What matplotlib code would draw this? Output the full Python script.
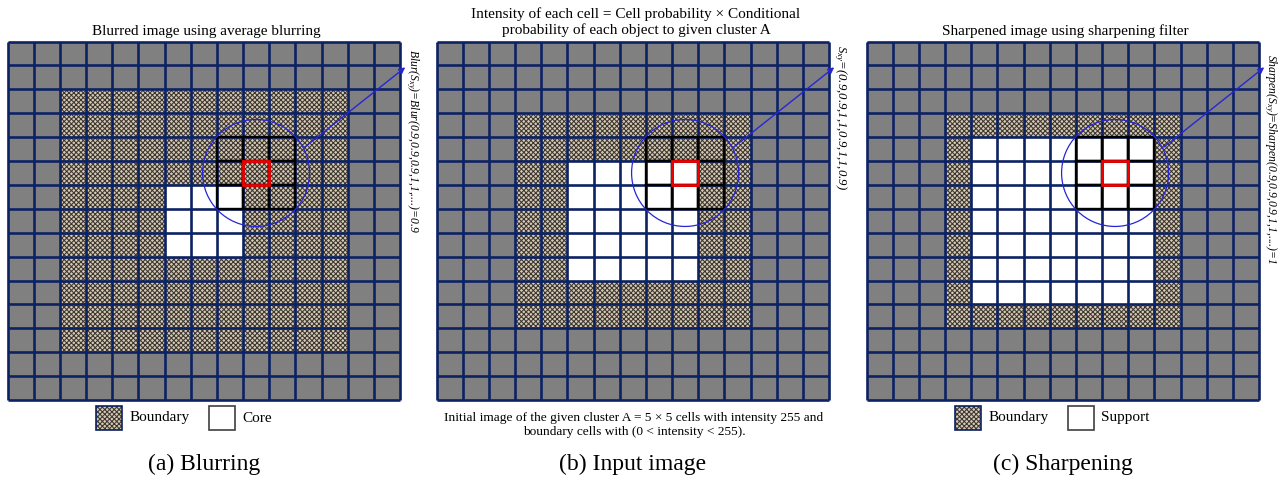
import matplotlib
matplotlib.use("Agg")
import matplotlib.pyplot as plt
from matplotlib.patches import Rectangle, Ellipse
import numpy as np

plt.rcParams['font.family'] = ['Liberation Serif', 'DejaVu Serif']
plt.rcParams['hatch.linewidth'] = 0.75
plt.rcParams['mathtext.fontset'] = 'custom'
plt.rcParams['mathtext.rm'] = 'Liberation Serif'
plt.rcParams['mathtext.it'] = 'Liberation Serif:italic'

# ---------------- data ----------------
n_rows = 15
n_cols = 15
panel_titles = ["Blurred image using average blurring",
                "Intensity of each cell = Cell probability \u00d7 Conditional\nprobability of each object to given cluster A",
                "Sharpened image using sharpening filter"]
panel_labels = ["(a) Blurring", "(b) Input image", "(c) Sharpening"]
# (row_start, row_end, col_start, col_end) inclusive
boundary_regions = [(2, 12, 2, 12), (3, 11, 3, 11), (3, 11, 3, 11)]
core_regions = [(6, 8, 6, 8), (5, 9, 5, 9), (4, 10, 4, 10)]
focus_cell = (5, 9)  # (row, col)
side_texts = [r"Blur(S$_{xy}$)=Blur(0.9,0.9,0.9,1,1,....)=0.9",
              r"S$_{xy}$=(0.9,0.9,1,1,0.9,1,1,0.9)",
              r"Sharpen(S$_{xy}$)=Sharpen(0.9,0.9,0.9,1,1,....)=1"]
legend_labels = [("Boundary", "Core"), None, ("Boundary", "Support")]
caption_b = "Initial image of the given cluster A = 5 \u00d7 5 cells with intensity 255 and\nboundary cells with (0 < intensity < 255)."

# ---------------- styles ----------------
W, H = 1281, 480
NAVY = '#0c2262'
GRAY = '#808080'
HATCH_FACE = '#d8c9b2'
HATCH_COL = '#3a3632'
BLUE = '#2626d6'
HATCH = 'xxxxxxx'

fig = plt.figure(figsize=(W / 100, H / 100), dpi=100)
fig.patch.set_facecolor('white')


def fx(x):
    return x / W


def fy(y):
    return 1 - y / H


grid_left = [7.5, 436.5, 866.5]
grid_w = 392.5
grid_top = 41.5
grid_bottom = 400.0
side_text_pos = [(412, 49), (840, 45), (1270, 54)]
side_text_size = [8.4, 9.2, 8.4]
legend_x = [96, None, 955]


def build_matrix(b, c):
    m = np.zeros((n_rows, n_cols), dtype=int)
    m[b[0]:b[1] + 1, b[2]:b[3] + 1] = 1
    m[c[0]:c[1] + 1, c[2]:c[3] + 1] = 2
    return m


for p in range(3):
    ax = fig.add_axes([fx(grid_left[p]), fy(grid_bottom), fx(grid_w),
                       (grid_bottom - grid_top) / H])
    ax.set_xlim(0, n_cols)
    ax.set_ylim(n_rows, 0)
    ax.axis('off')
    m = build_matrix(boundary_regions[p], core_regions[p])
    for r in range(n_rows):
        for c in range(n_cols):
            t = m[r, c]
            if t == 0:
                ax.add_patch(Rectangle((c, r), 1, 1, facecolor=GRAY, edgecolor='none', lw=0))
            elif t == 1:
                ax.add_patch(Rectangle((c, r), 1, 1, facecolor=HATCH_FACE, edgecolor=HATCH_COL,
                                       hatch=HATCH, lw=0))
            else:
                ax.add_patch(Rectangle((c, r), 1, 1, facecolor='white', edgecolor='none', lw=0))
    ax.vlines(np.arange(n_cols + 1), 0, n_rows, colors=NAVY, lw=1.9, clip_on=False)
    ax.hlines(np.arange(n_rows + 1), 0, n_cols, colors=NAVY, lw=1.9, clip_on=False)
    fr, fc = focus_cell
    for dr in (-1, 0, 1):
        for dc in (-1, 0, 1):
            ax.add_patch(Rectangle((fc + dc, fr + dr), 1, 1, facecolor='none',
                                   edgecolor='black', lw=1.7, zorder=3))
    ax.add_patch(Rectangle((fc, fr), 1, 1, facecolor='none', edgecolor='#ee0000', lw=2.0, zorder=4))
    cw = grid_w / n_cols
    ch = (grid_bottom - grid_top) / n_rows
    rad = 53.5
    ax.add_patch(Ellipse((fc + 0.5, fr + 0.5), 2 * rad / cw, 2 * rad / ch, facecolor='none',
                         edgecolor=BLUE, lw=0.9, zorder=5))
    ax.annotate('', xy=(15.2, 1.08), xytext=(11.36, 4.42), annotation_clip=False,
                arrowprops=dict(arrowstyle='-|>', color=BLUE, lw=1.0, mutation_scale=9,
                                shrinkA=0, shrinkB=0), zorder=6)

    # titles
    if p == 1:
        fig.text(fx(636), fy(22), panel_titles[p], ha='center', va='center', fontsize=11,
                 linespacing=1.25)
    else:
        fig.text(fx(grid_left[p] + grid_w / 2 + 3), fy(31), panel_titles[p], ha='center',
                 va='center', fontsize=11)
    # side text
    sx, sy = side_text_pos[p]
    fig.text(fx(sx), fy(sy), side_texts[p], rotation=-90, ha='center', va='top',
             fontsize=side_text_size[p], fontstyle='italic')
    # sub labels
    fig.text(fx(grid_left[p] + grid_w / 2), fy(464), panel_labels[p], ha='center', va='center',
             fontsize=17)
    # legends
    if legend_labels[p] is not None:
        lx = legend_x[p]
        fig.add_artist(Rectangle((fx(lx), fy(430)), fx(26), 24 / H, facecolor=HATCH_FACE,
                                 edgecolor=HATCH_COL, hatch=HATCH, lw=0,
                                 transform=fig.transFigure))
        fig.add_artist(Rectangle((fx(lx), fy(430)), fx(26), 24 / H, facecolor='none',
                                 edgecolor=NAVY, lw=1.2, transform=fig.transFigure))
        fig.text(fx(lx + 34), fy(418), legend_labels[p][0], ha='left', va='center', fontsize=11)
        fig.add_artist(Rectangle((fx(lx + 113), fy(430)), fx(26), 24 / H, facecolor='white',
                                 edgecolor='#404040', lw=1.2, transform=fig.transFigure))
        fig.text(fx(lx + 146), fy(418), legend_labels[p][1], ha='left', va='center', fontsize=11)

fig.text(fx(634), fy(425), caption_b, ha='center', va='center', fontsize=9.6, linespacing=1.25)

fig.savefig('out.png', dpi=100)
